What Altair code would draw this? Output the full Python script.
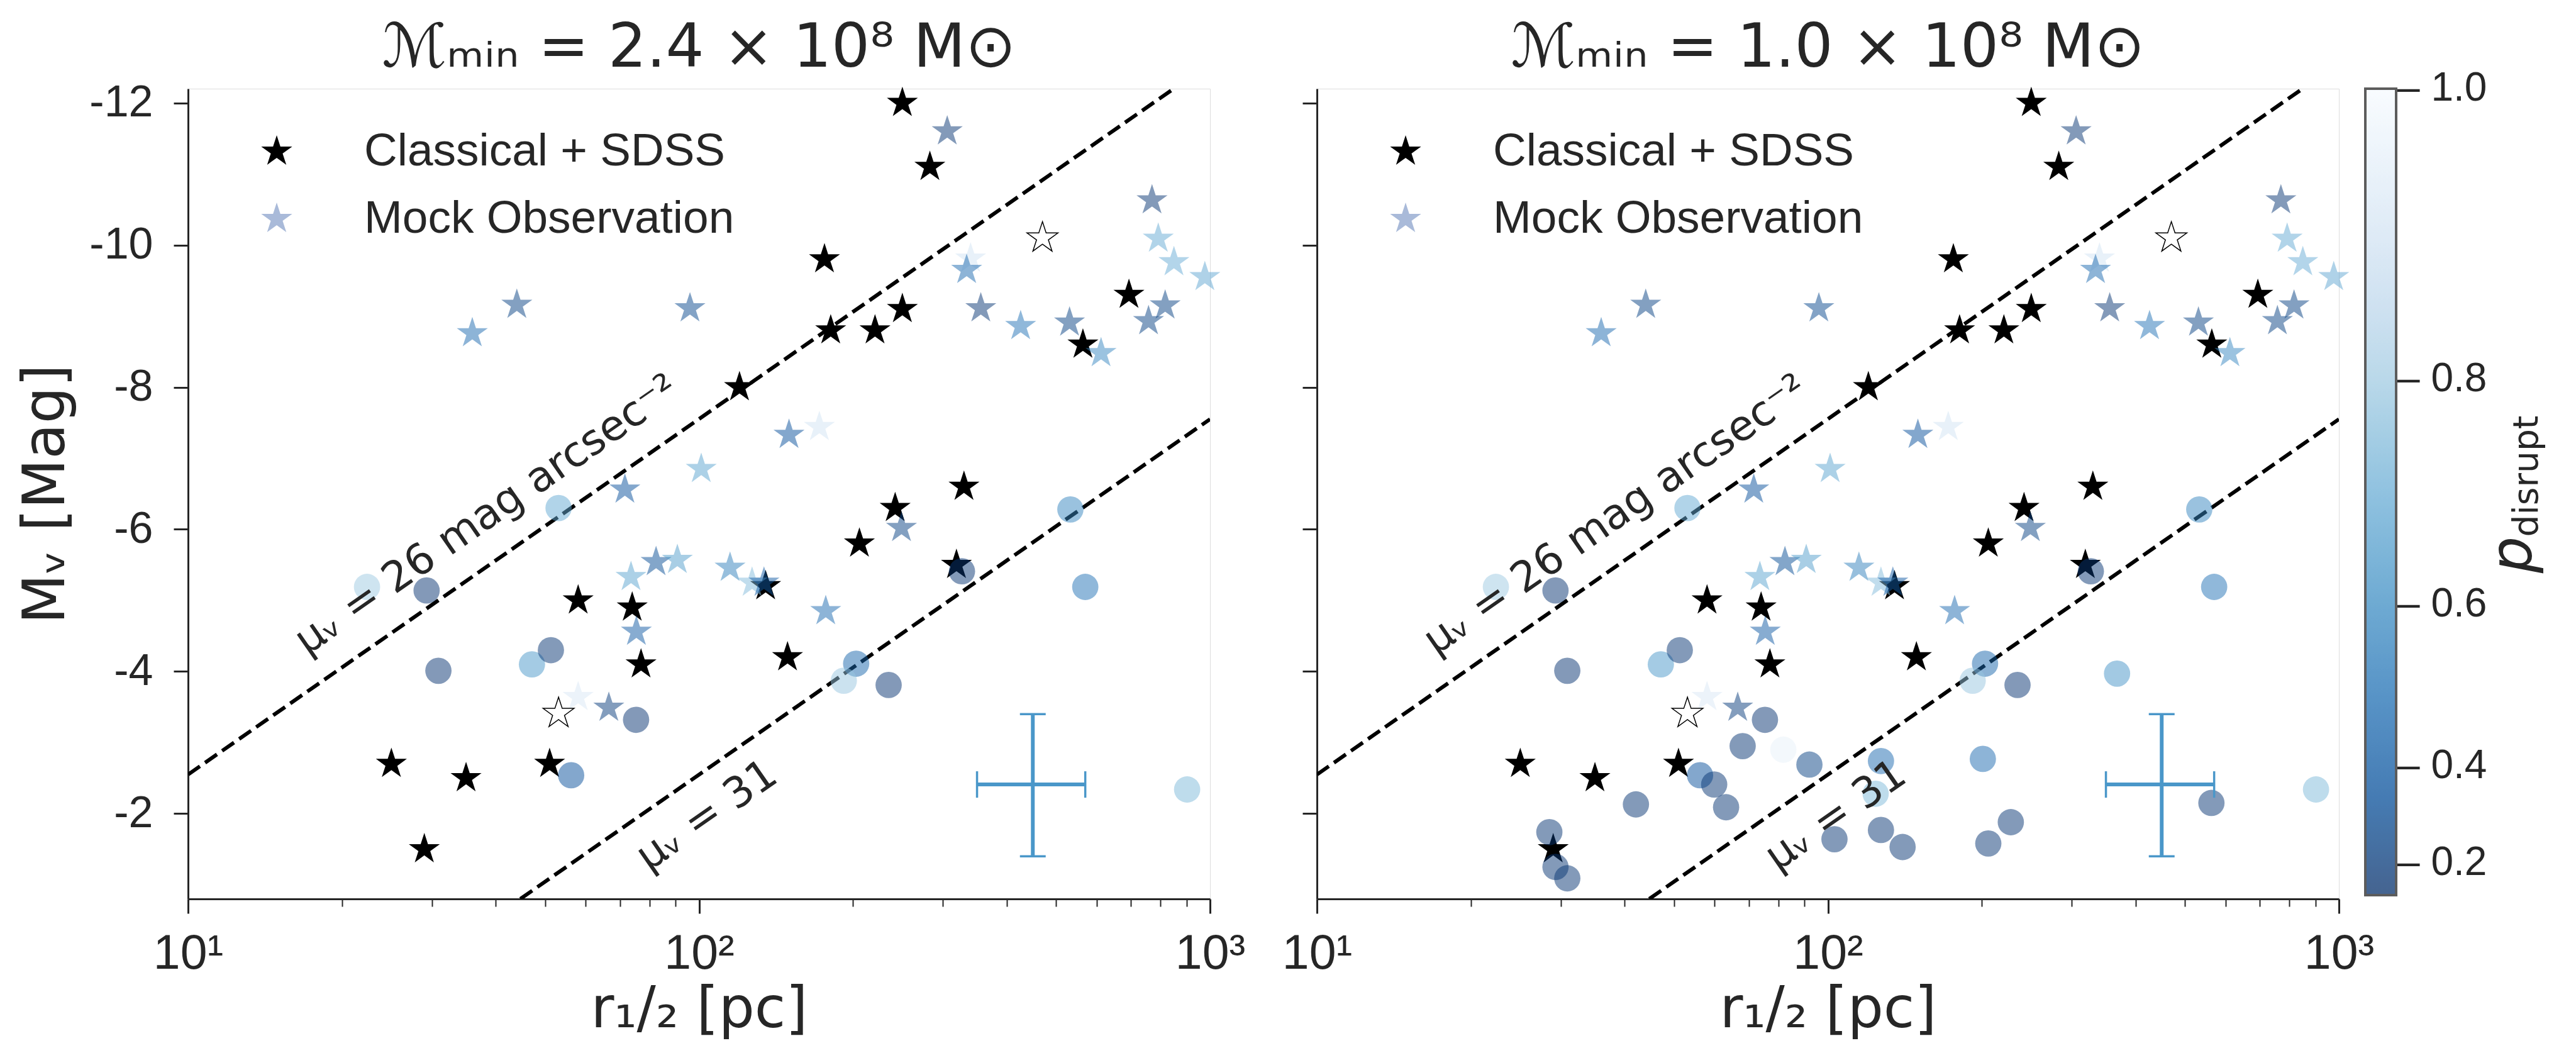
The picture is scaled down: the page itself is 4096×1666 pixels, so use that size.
import altair as alt
import pandas as pd

# ---------------- values ----------------
# Observed dwarfs (Classical + SDSS): half-light radius [pc], M_V [mag]
obs_r = [250, 283, 176, 181, 221, 250, 120, 694, 564, 330, 242, 206, 319, 135, 149,
         58, 74, 77, 25, 35, 51, 29]
obs_M = [-12.0, -11.1, -9.8, -8.8, -8.8, -9.1, -8.0, -9.3, -8.6, -6.6, -6.3, -5.8, -5.5,
         -5.2, -4.2, -5.0, -4.9, -4.1, -2.7, -2.5, -2.7, -1.5]

# Mock observation (stars), coloured by p_disrupt
mock_r = [306, 770, 792, 850, 977, 340, 334, 356, 426, 531, 612, 817, 758, 150, 172,
          101, 36, 44, 96, 71.6, 73.6, 82.4, 90.7, 75.4, 58, 66.6, 115, 127, 134, 177, 249]
mock_M = [-11.6, -10.63, -10.09, -9.76, -9.55, -9.81, -9.65, -9.11, -8.86, -8.91, -8.48,
          -9.15, -8.93, -7.33, -7.44, -6.85, -8.76, -9.16, -9.11, -6.56, -5.33, -5.54,
          -5.57, -4.56, -3.64, -3.49, -5.46, -5.25, -5.25, -4.85, -6.02]
mock_p = [0.15, 0.15, 0.69, 0.70, 0.68, 0.90, 0.47, 0.15, 0.50, 0.25, 0.58, 0.25, 0.25,
          0.35, 0.90, 0.67, 0.47, 0.25, 0.30, 0.35, 0.67, 0.33, 0.65, 0.40, 0.92, 0.20,
          0.55, 0.75, 0.40, 0.47, 0.25]

# Undetected mock satellites (circles) present in both panels
circ_r = [22.4, 29.3, 53.1, 30.9, 47.1, 51.3, 75.3, 56.2, 533, 570, 327, 203, 192, 235, 902]
circ_M = [-5.19, -5.14, -6.30, -4.01, -4.10, -4.30, -3.32, -2.54, -6.28, -5.19, -5.41,
          -4.11, -3.87, -3.81, -2.34]
circ_p = [0.79, 0.12, 0.69, 0.12, 0.63, 0.15, 0.12, 0.35, 0.57, 0.50, 0.15, 0.45, 0.78,
          0.12, 0.74]

# Extra circles only in the lower-mass-threshold panel
extra_r = [68.1, 81.8, 92, 59.9, 63.2, 42.1, 28.5, 29.3, 30.9, 368, 127, 201, 124, 563,
           103, 127, 140, 206, 228]
extra_M = [-2.95, -2.90, -2.69, -2.41, -2.09, -2.13, -1.74, -1.25, -1.09, -3.97, -2.74,
           -2.77, -2.28, -2.15, -1.64, -1.77, -1.53, -1.58, -1.88]
extra_p = [0.15, 0.96, 0.25, 0.15, 0.15, 0.15, 0.15, 0.15, 0.15, 0.62, 0.47, 0.47, 0.74,
           0.15, 0.15, 0.15, 0.15, 0.15, 0.15]

# Open stars
hollow_r = [470, 53.1]
hollow_M = [-10.1, -3.41]

# Typical error bar
err_r, err_r_lo, err_r_hi = [450], [350], [570]
err_M, err_M_lo, err_M_hi = [-2.41], [-3.40], [-1.40]

# Surface-brightness limits: where the dashed lines meet the frame
sb26_r = [10, 849]
sb26_M = [-2.55, -12.2]
sb31_r = [44.7, 1000]
sb31_M = [-0.8, -7.55]

lab_text = ["μᵥ = 26 mag arcsec⁻²", "μᵥ = 31"]
lab_r = [38.5, 103.7]
lab_M = [-6.2, -1.97]

titles = ["ℳₘᵢₙ = 2.4 × 10⁸ M⊙", "ℳₘᵢₙ = 1.0 × 10⁸ M⊙"]
legend_labels = ["Classical + SDSS", "Mock Observation"]

x_ticks = [10, 20, 30, 40, 50, 60, 70, 80, 90, 100, 200, 300, 400, 500, 600, 700, 800,
           900, 1000]
y_ticks = [-12, -10, -8, -6, -4, -2]
cbar_ticks = [0.2, 0.4, 0.6, 0.8, 0.9999]

# ---------------- styling ----------------
W, H = 1625, 1288
INK = "#262626"
ERR = "#4a97c9"
MOCK_KEY = "#a9bad9"
STAR = ("M0,-1L0.2245,-0.309L0.9511,-0.309L0.3633,0.118L0.5878,0.809L0,0.382"
        "L-0.5878,0.809L-0.3633,0.118L-0.9511,-0.309L-0.2245,-0.309Z")
STAR_SIZE = 2686
CIRC_SIZE = 1747
BLUES_R = ["#08306b", "#08519c", "#2171b5", "#4292c6", "#6baed6", "#9ecae1",
           "#c6dbef", "#deebf7", "#f7fbff"]
CDOM = [0.0, 0.35355, 0.5, 0.61237, 0.70711, 0.79057, 0.86603, 0.93541, 1.0]

obs_df = pd.DataFrame({"r": obs_r, "M": obs_M})
mock_df = pd.DataFrame({"r": mock_r, "M": mock_M, "p": mock_p})
circ_left = pd.DataFrame({"r": circ_r, "M": circ_M, "p": circ_p})
circ_right = pd.DataFrame({"r": circ_r + extra_r, "M": circ_M + extra_M, "p": circ_p + extra_p})
hollow_df = pd.DataFrame({"r": hollow_r, "M": hollow_M})
err_df = pd.DataFrame({"r": err_r, "r_lo": err_r_lo, "r_hi": err_r_hi,
                       "M": err_M, "M_lo": err_M_lo, "M_hi": err_M_hi})
sb_df = pd.DataFrame({"r": sb26_r + sb31_r, "M": sb26_M + sb31_M,
                      "line": ["26"] * 2 + ["31"] * 2})
lab_df = pd.DataFrame({"r": lab_r, "M": lab_M, "txt": lab_text})
key_obs_df = pd.DataFrame({"txt": [legend_labels[0]]})
key_mock_df = pd.DataFrame({"txt": [legend_labels[1]]})
ptitle_df = pd.DataFrame({"txt": ["p"]})
psub_df = pd.DataFrame({"txt": ["disrupt"]})

xscale = alt.Scale(type="log", domain=[10, 1000], nice=False)
yscale = alt.Scale(domain=[-12.2, -0.8], reverse=True, nice=False, zero=False)
cscale = alt.Scale(type="pow", exponent=2, domain=CDOM, range=BLUES_R,
                   interpolate="rgb", clamp=True)

MINOR = "datum.value != 10 && datum.value != 100 && datum.value != 1000"
xaxis = alt.Axis(
    values=x_ticks,
    labelExpr="datum.value == 10 ? '10¹' : datum.value == 100 ? '10²' : "
              "datum.value == 1000 ? '10³' : ''",
    labelFont="Liberation Sans", labelFontSize=77, labelColor=INK, labelPadding=26,
    labelOverlap=False, labelFlush=False,
    tickSize={"condition": {"test": MINOR, "value": 12}, "value": 23},
    tickWidth={"condition": {"test": MINOR, "value": 2}, "value": 3},
    tickColor=INK, domainColor=INK, domainWidth=3, grid=False,
    title="r₁/₂ [pc]", titleFont="DejaVu Sans", titleFontSize=90,
    titleFontWeight="normal", titleColor=INK, titleY=176, titleBaseline="middle",
)


def yaxis(with_labels):
    if with_labels:
        return alt.Axis(
            values=y_ticks, labelExpr="'' + datum.value", labelFont="Liberation Sans",
            labelFontSize=70, labelColor=INK, labelPadding=33, tickSize=23, tickWidth=3,
            tickColor=INK, domainColor=INK, domainWidth=3, grid=False,
            title="Mᵥ [Mag]", titleFont="DejaVu Sans", titleFontSize=92,
            titleFontWeight="normal", titleColor=INK, titleX=-226, titleY=H / 2,
            titleBaseline="middle", titleAlign="center", titleAngle=270,
        )
    return alt.Axis(values=y_ticks, labels=False, tickSize=23, tickWidth=3,
                    tickColor=INK, domainColor=INK, domainWidth=3, grid=False, title=None)


color_legend = alt.Legend(
    title=None, orient="none", legendX=3462, legendY=0, direction="vertical",
    gradientLength=1282, gradientThickness=49, gradientStrokeColor=INK,
    gradientStrokeWidth=4, gradientOpacity=0.75, values=cbar_ticks,
    labelExpr="'– ' + format(datum.value, '.1f')", labelFont="Liberation Sans",
    labelFontSize=64, labelColor=INK, labelOffset=2, labelBaseline="middle",
    labelOverlap=False, padding=0,
)


def panel(idx, circ_df):
    yax = yaxis(idx == 0)
    X = lambda f="r": alt.X(f"{f}:Q", scale=xscale, axis=xaxis)
    Y = lambda f="M": alt.Y(f"{f}:Q", scale=yscale, axis=yax)

    lines = alt.Chart(sb_df).mark_line(
        clip=True, color="black", strokeWidth=6, strokeDash=[23, 10]
    ).encode(x=X(), y=Y(), detail="line:N")

    obs = alt.Chart(obs_df).mark_point(
        shape=STAR, filled=True, size=STAR_SIZE, color="black", opacity=1, strokeWidth=0
    ).encode(x=X(), y=Y())

    mock = alt.Chart(mock_df).mark_point(
        shape=STAR, filled=True, size=STAR_SIZE, opacity=0.5, strokeWidth=0
    ).encode(x=X(), y=Y(), color=alt.Color("p:Q", scale=cscale, legend=color_legend))

    circles = alt.Chart(circ_df).mark_circle(size=CIRC_SIZE, opacity=0.5).encode(
        x=X(), y=Y(), color=alt.Color("p:Q", scale=cscale, legend=color_legend)
    )

    hollow = alt.Chart(hollow_df).mark_point(
        shape=STAR, size=STAR_SIZE, filled=True, fill="white", stroke="black",
        strokeWidth=1.5, opacity=1
    ).encode(x=X(), y=Y())

    err_v = alt.Chart(err_df).mark_rule(color=ERR, strokeWidth=6).encode(
        x=X(), y=Y("M_lo"), y2="M_hi:Q")
    err_h = alt.Chart(err_df).mark_rule(color=ERR, strokeWidth=6).encode(
        x=X("r_lo"), x2="r_hi:Q", y=Y())
    cap_lo = alt.Chart(err_df).mark_tick(orient="horizontal", size=41, thickness=3.5,
                                         color=ERR, opacity=1).encode(x=X(), y=Y("M_lo"))
    cap_hi = alt.Chart(err_df).mark_tick(orient="horizontal", size=41, thickness=3.5,
                                         color=ERR, opacity=1).encode(x=X(), y=Y("M_hi"))
    cap_l = alt.Chart(err_df).mark_tick(orient="vertical", size=42, thickness=3.5,
                                        color=ERR, opacity=1).encode(x=X("r_lo"), y=Y())
    cap_r = alt.Chart(err_df).mark_tick(orient="vertical", size=42, thickness=3.5,
                                        color=ERR, opacity=1).encode(x=X("r_hi"), y=Y())

    labels = alt.Chart(lab_df).mark_text(
        angle=325.2, font="DejaVu Sans", fontSize=67, color=INK,
        align="center", baseline="middle"
    ).encode(x=X(), y=Y(), text="txt:N")

    # panel heading
    head_df = pd.DataFrame({"txt": [titles[idx]]})
    heading = alt.Chart(head_df).mark_text(
        font="DejaVu Sans", fontSize=96, color=INK, align="center", baseline="alphabetic"
    ).encode(x=alt.value(W / 2), y=alt.value(-35), text="txt:N")

    # in-panel key
    key_obs_sym = alt.Chart(key_obs_df).mark_point(
        shape=STAR, filled=True, size=STAR_SIZE, color="black", opacity=1, strokeWidth=0
    ).encode(x=alt.value(141), y=alt.value(100))
    key_mock_sym = alt.Chart(key_mock_df).mark_point(
        shape=STAR, filled=True, size=STAR_SIZE, color=MOCK_KEY, opacity=1, strokeWidth=0
    ).encode(x=alt.value(141), y=alt.value(207))
    key_obs_txt = alt.Chart(key_obs_df).mark_text(
        font="Liberation Sans", fontSize=73, color=INK, align="left", baseline="middle"
    ).encode(x=alt.value(280), y=alt.value(100), text="txt:N")
    key_mock_txt = alt.Chart(key_mock_df).mark_text(
        font="Liberation Sans", fontSize=73, color=INK, align="left", baseline="middle"
    ).encode(x=alt.value(280), y=alt.value(207), text="txt:N")

    layers = [lines, obs, mock, circles, hollow, err_v, err_h, cap_lo, cap_hi,
              cap_l, cap_r, labels, heading, key_obs_sym, key_mock_sym, key_obs_txt,
              key_mock_txt]

    if idx == 1:
        ptxt = alt.Chart(ptitle_df).mark_text(
            angle=270, font="DejaVu Sans", fontSize=92, fontStyle="italic", color=INK,
            align="center", baseline="alphabetic"
        ).encode(x=alt.value(1931), y=alt.value(741), text="txt:N")
        psub = alt.Chart(psub_df).mark_text(
            angle=270, font="DejaVu Sans", fontSize=55, color=INK,
            align="center", baseline="alphabetic"
        ).encode(x=alt.value(1941), y=alt.value(616), text="txt:N")
        layers += [ptxt, psub]

    return alt.layer(*layers).properties(width=W, height=H)


chart = (
    alt.hconcat(panel(0, circ_left), panel(1, circ_right), spacing=170, bounds="flush")
    .resolve_scale(color="shared")
    .resolve_legend(color="shared")
    .properties(padding={"left": 26, "top": 28, "right": 10, "bottom": 40})
    .configure_view(stroke=INK, strokeWidth=3)
    .configure(background="white", font="Liberation Sans")
)

chart.save("out.html", embed_options={"renderer": "svg", "actions": False})
